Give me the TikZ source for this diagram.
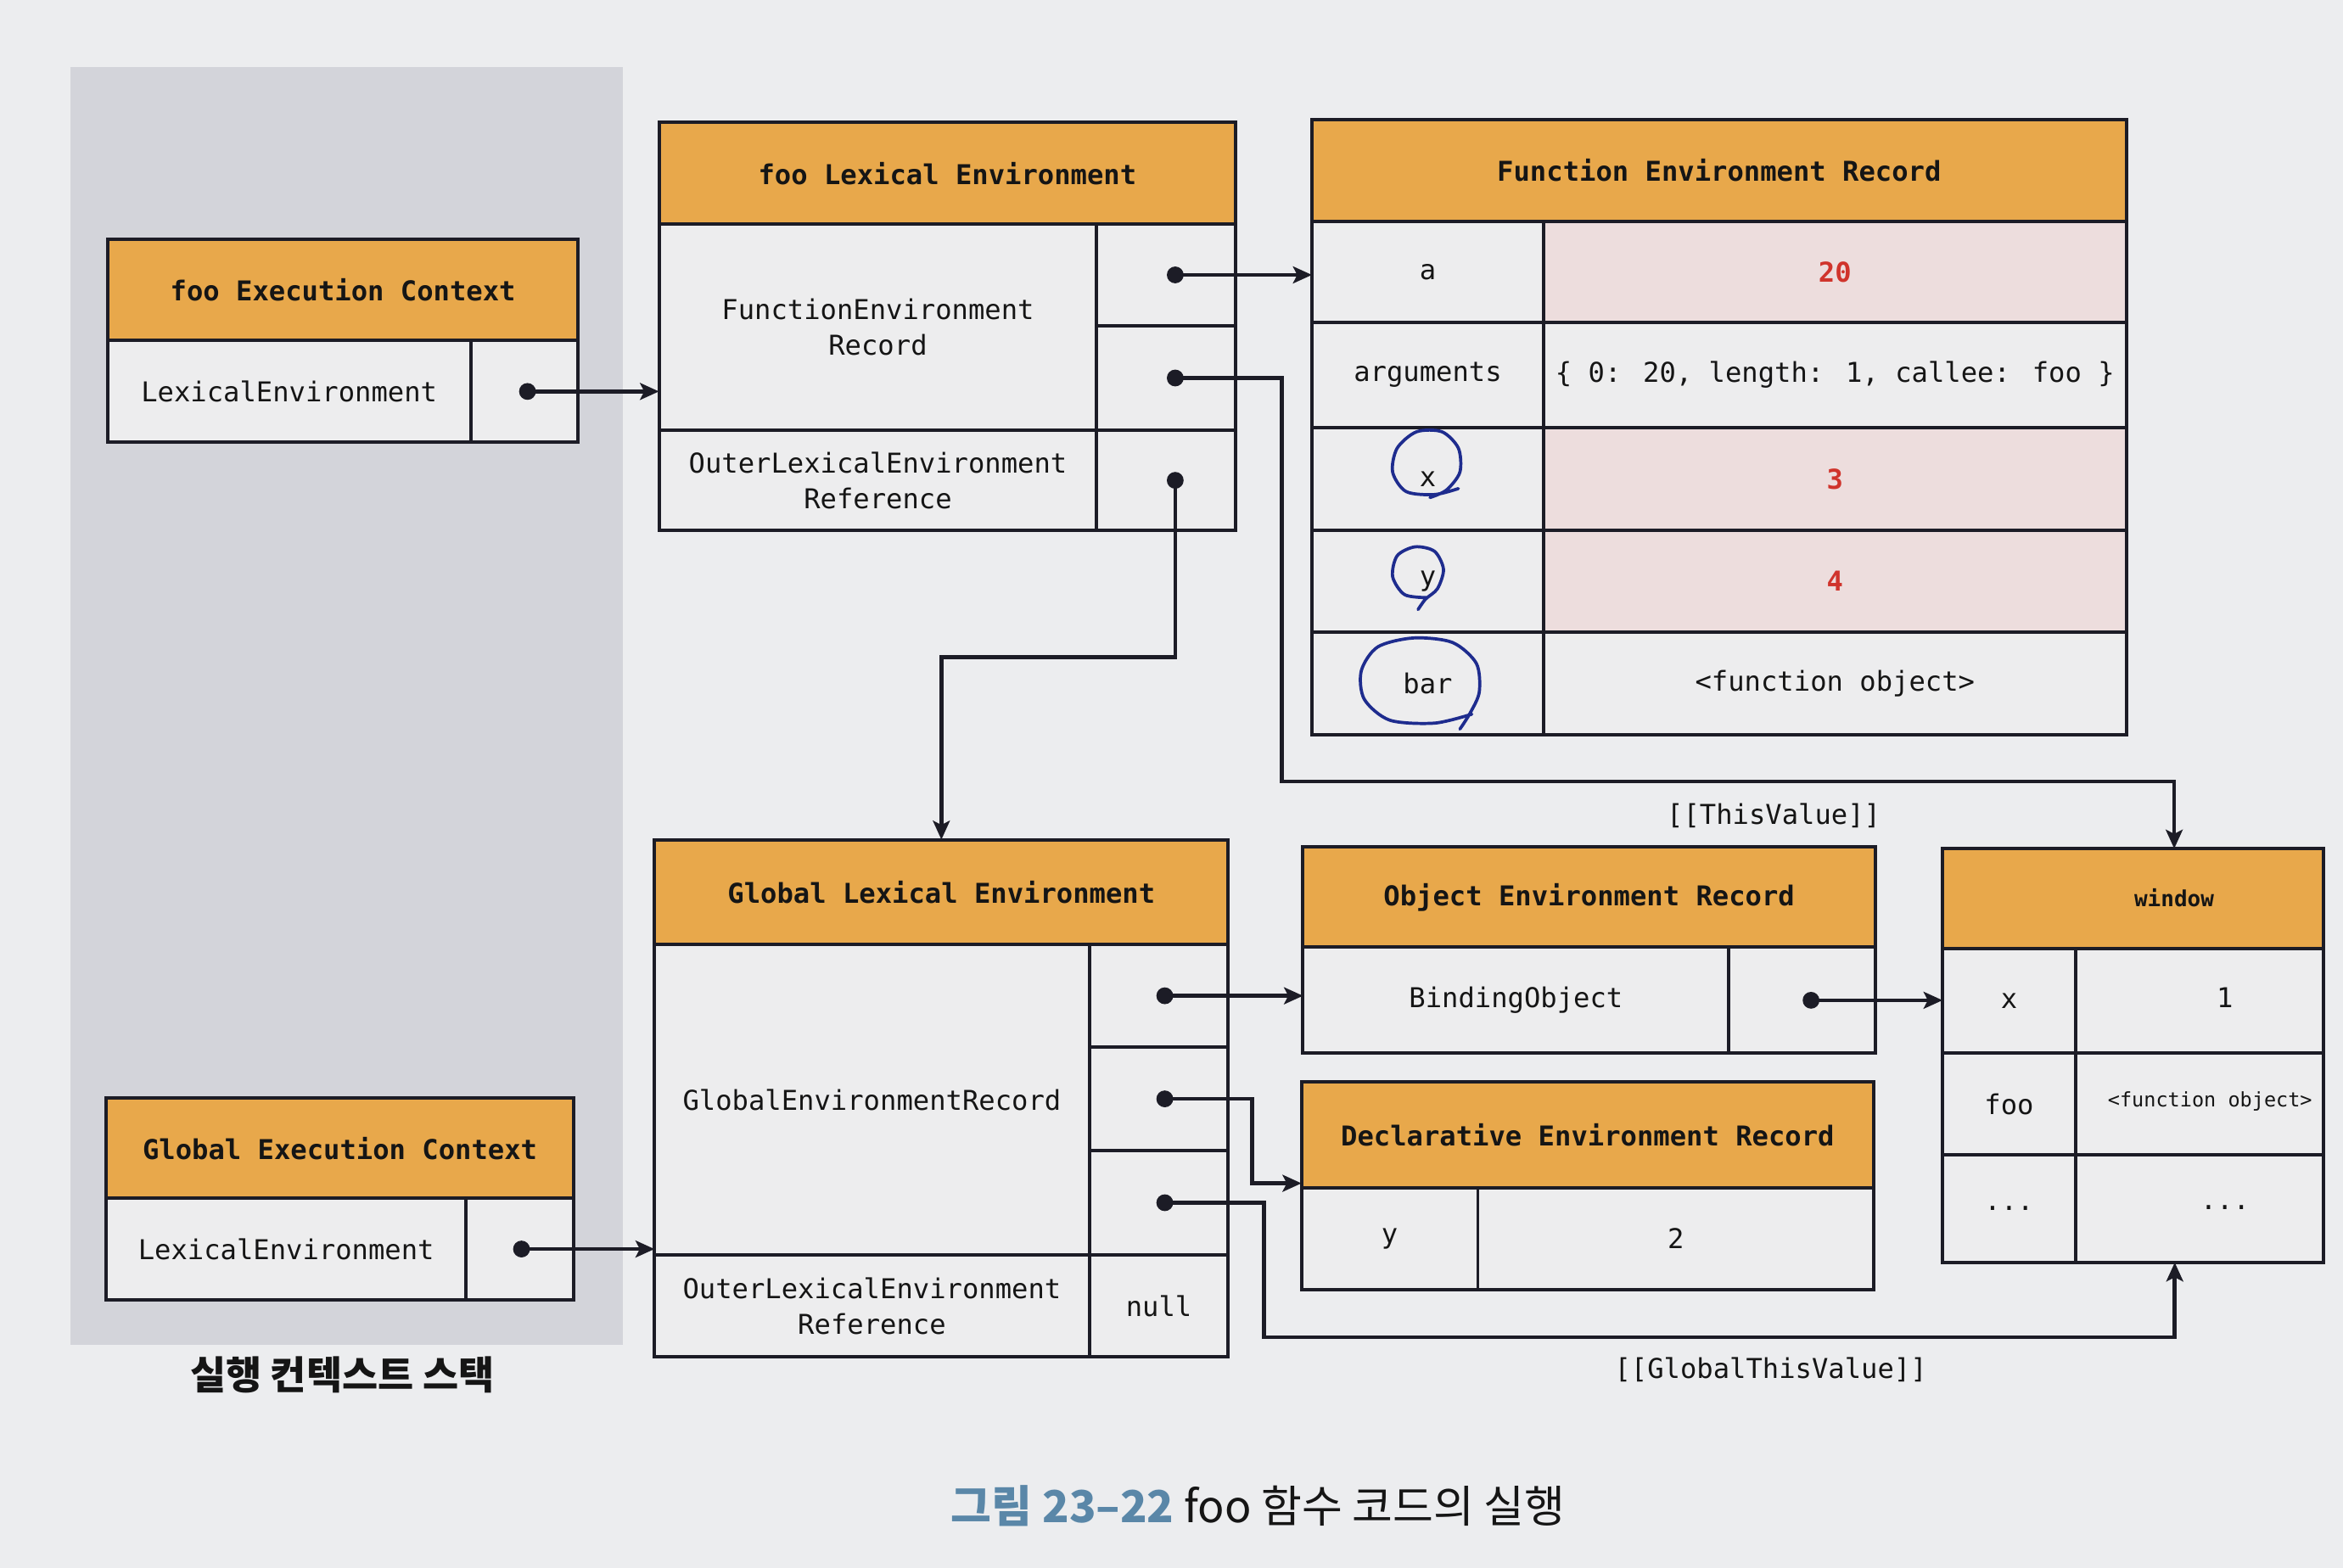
\documentclass[tikz,border=0pt]{standalone}
\usepackage{fontspec}
\usetikzlibrary{arrows.meta,calc}
\newfontfamily\mono{DejaVu Sans Mono}
\newfontfamily\kr{Noto Sans CJK KR}
\definecolor{page}{HTML}{ECEDEF}
\definecolor{panel}{HTML}{D3D4DA}
\definecolor{headfill}{HTML}{E8A84B}
\definecolor{cellfill}{HTML}{EDEDEE}
\definecolor{pinkfill}{HTML}{EDDDDD}
\definecolor{ink}{HTML}{1C1C26}
\definecolor{txt}{HTML}{151515}
\definecolor{valred}{HTML}{D0342C}
\definecolor{pen}{HTML}{1E2C8E}
\definecolor{capblue}{HTML}{5A87A8}

\tikzset{
  cellbase/.style={draw=ink, line width=1.6pt, fill=cellfill, inner sep=0pt,
    outer sep=0pt, align=center, text=txt,
    font=\mono\fontsize{13}{17}\selectfont},
  head/.style={fill=headfill, font=\mono\bfseries\fontsize{13}{17}\selectfont},
  pinkcell/.style={fill=pinkfill},
  redval/.style={text=valred, font=\mono\bfseries\fontsize{13}{17}\selectfont},
  plain/.style={},
  arr/.style={draw=ink, line width=1.9pt, -{Stealth[length=9pt,width=8pt,inset=2pt]}},
  dot/.style={fill=ink},
  lbl/.style={text=txt, inner sep=1pt, font=\mono\fontsize{13}{17}\selectfont},
  smalllbl/.style={text=txt, inner sep=1pt, font=\mono\fontsize{9.5}{12}\selectfont},
  pencircle/.style={draw=pen, line width=1.5pt, line cap=round, line join=round},
}

% a table cell: name, x1, y1, x2, y2, extra style, text
\newcommand\tcell[7]{%
  \node[cellbase,#6,minimum width={(#4-#2)*0.025cm},minimum height={(#5-#3)*0.025cm}]
    (#1) at ({(#2+#4)/2},{(#3+#5)/2}) {#7};}

\begin{document}
\begin{tikzpicture}[x=0.025cm,y=-0.025cm]
\fill[page] (0,0) rectangle (1568,1049.5);
\useasboundingbox (0,0) rectangle (1568,1049.5);

% execution context stack panel
\fill[panel] (47,45) rectangle (417,900);

% foo execution context
\tcell{fooech}{72}{160}{387}{228}{head}{foo Execution Context}
\tcell{fooecl}{72}{228}{315}{296}{plain}{LexicalEnvironment}
\tcell{fooecv}{315}{228}{387}{296}{plain}{}

% global execution context
\tcell{gech}{71}{735}{384}{802}{head}{Global Execution Context}
\tcell{gecl}{71}{802}{312}{870}{plain}{LexicalEnvironment}
\tcell{gecv}{312}{802}{384}{870}{plain}{}

\node[inner sep=1pt, text=txt, font=\kr\bfseries\fontsize{18.5}{20}\selectfont]
  (stacklabel) at (229,920) {실행 컨텍스트 스택};

% foo lexical environment
\tcell{foolh}{441}{82}{827}{150}{head}{foo Lexical Environment}
\tcell{foolfer}{441}{150}{734}{288}{plain}{FunctionEnvironment\\Record}
\tcell{foolv1}{734}{150}{827}{218}{plain}{}
\tcell{foolv2}{734}{218}{827}{288}{plain}{}
\tcell{foolo}{441}{288}{734}{355}{plain}{OuterLexicalEnvironment\\Reference}
\tcell{foolov}{734}{288}{827}{355}{plain}{}

% function environment record
\tcell{ferh}{878}{80}{1423}{148}{head}{Function Environment Record}
\tcell{fera}{878}{148}{1033}{216}{plain}{a}
\tcell{ferav}{1033}{148}{1423}{216}{pinkcell,redval}{20}
\tcell{ferarg}{878}{216}{1033}{286}{plain}{arguments}
\tcell{ferargv}{1033}{216}{1423}{286}{plain}{\{ 0: 20, length: 1, callee: foo \}}
\tcell{ferx}{878}{286}{1033}{355}{plain}{x}
\tcell{ferxv}{1033}{286}{1423}{355}{pinkcell,redval}{3}
\tcell{fery}{878}{355}{1033}{423}{plain}{y}
\tcell{feryv}{1033}{355}{1423}{423}{pinkcell,redval}{4}
\tcell{ferbar}{878}{423}{1033}{492}{plain}{bar}
\tcell{ferbarv}{1033}{423}{1423}{492}{plain}{<function object>}

% hand-drawn marks around x, y and bar
\draw[pencircle] plot[smooth] coordinates {(976,327) (960,331) (941,329) (932,316)
  (935,300) (948,289) (965,289) (976,300) (977,316) (968,328) (957,333)};
\draw[pencircle] plot[smooth] coordinates {(955,400) (940,398) (932,386) (935,372)
  (947,366) (960,369) (966,381) (962,394) (954,401) (949,408)};
\draw[pencircle] plot[smooth] coordinates {(985,478) (960,484) (930,482) (913,468)
  (911,449) (922,433) (946,427) (972,430) (988,444) (990,463) (984,477) (977,488)};

% global lexical environment
\tcell{gleh}{438}{562}{822}{632}{head}{Global Lexical Environment}
\tcell{gleger}{438}{632}{729}{840}{plain}{GlobalEnvironmentRecord}
\tcell{glev1}{729}{632}{822}{701}{plain}{}
\tcell{glev2}{729}{701}{822}{770}{plain}{}
\tcell{glev3}{729}{770}{822}{840}{plain}{}
\tcell{gleo}{438}{840}{729}{908}{plain}{OuterLexicalEnvironment\\Reference}
\tcell{gleov}{729}{840}{822}{908}{plain}{null}

% object environment record
\tcell{oerh}{872}{567}{1255}{634}{head}{Object Environment Record}
\tcell{oerb}{872}{634}{1157}{705}{plain}{BindingObject}
\tcell{oerv}{1157}{634}{1255}{705}{plain}{}

% declarative environment record
\tcell{derh}{871}{724}{1254}{795}{head}{Declarative Environment Record}
\tcell{derk}{871}{795}{989}{863}{plain}{y}
\tcell{derv}{989}{795}{1254}{863}{plain}{2}

% global object
\tcell{winh}{1300}{568}{1555}{635}{head}{}
\tcell{wink1}{1300}{635}{1389}{705}{plain}{x}
\tcell{winv1}{1389}{635}{1555}{705}{plain}{}
\tcell{wink2}{1300}{705}{1389}{773}{plain}{foo}
\tcell{winv2}{1389}{705}{1555}{773}{plain}{}
\tcell{wink3}{1300}{773}{1389}{845}{plain}{...}
\tcell{winv3}{1389}{773}{1555}{845}{plain}{}
\node[lbl, font=\mono\bfseries\fontsize{10.5}{12}\selectfont] (wintitle) at (1455,601) {window};
\node[lbl] (winval1) at (1489,668) {1};
\node[smalllbl] (winval2) at (1479,737) {<function object>};
\node[lbl] (winval3) at (1489,808) {...};

% reference points on the global object
\coordinate (wintop) at ($(winh.north west)!0.608!(winh.north east)$);
\coordinate (winbot) at ($(winv3.south west)!0.4!(winv3.south east)$);

% connector origins, a little right of the cell centres
\foreach \c/\dx in {fooecv/2,gecv/1,foolv1/6,foolv2/6,foolov/6,glev1/4,glev2/4,glev3/4,oerv/6}
  \coordinate (\c-o) at ($(\c.center)+(\dx,0)$);

% bend points of the routed connectors
\coordinate (tvbend) at (858,523);
\coordinate (obend) at (0,440);
\coordinate (dbend) at (838,792);
\coordinate (gtbend) at (846,895);

% connectors
\draw[arr] (fooecv-o) -- (fooecv-o -| foolfer.west);
\draw[arr] (gecv-o) -- (gecv-o -| gleger.west);
\draw[arr] (foolv1-o) -- (foolv1-o -| fera.west);
\draw[arr] (foolv2-o) -| (tvbend) -| (wintop);
\draw[arr] (foolov-o) |- (gleh.north |- obend) -- (gleh.north);
\draw[arr] (glev1-o) -- (glev1-o -| oerb.west);
\draw[arr] (glev2-o) -| (dbend) -- (dbend -| derh.west);
\draw[arr] (glev3-o) -| (gtbend) -| (winbot);
\draw[arr] (oerv-o) -- (oerv-o -| wink1.west);

\foreach \c in {fooecv,gecv,foolv1,foolv2,foolov,glev1,glev2,glev3,oerv}
  \fill[dot] (\c-o) circle[radius=4pt];

% connector labels
\node[lbl] (thislabel) at (1187,546) {[[ThisValue]]};
\node[lbl] (globalthislabel) at (1185,917) {[[GlobalThisValue]]};

% caption
\node[inner sep=1pt, text=txt, font=\kr\fontsize{21}{24}\selectfont] (caption) at (842,1008)
  {{\color{capblue}\bfseries 그림 23–22}\ foo 함수 코드의 실행};
\end{tikzpicture}
\end{document}
